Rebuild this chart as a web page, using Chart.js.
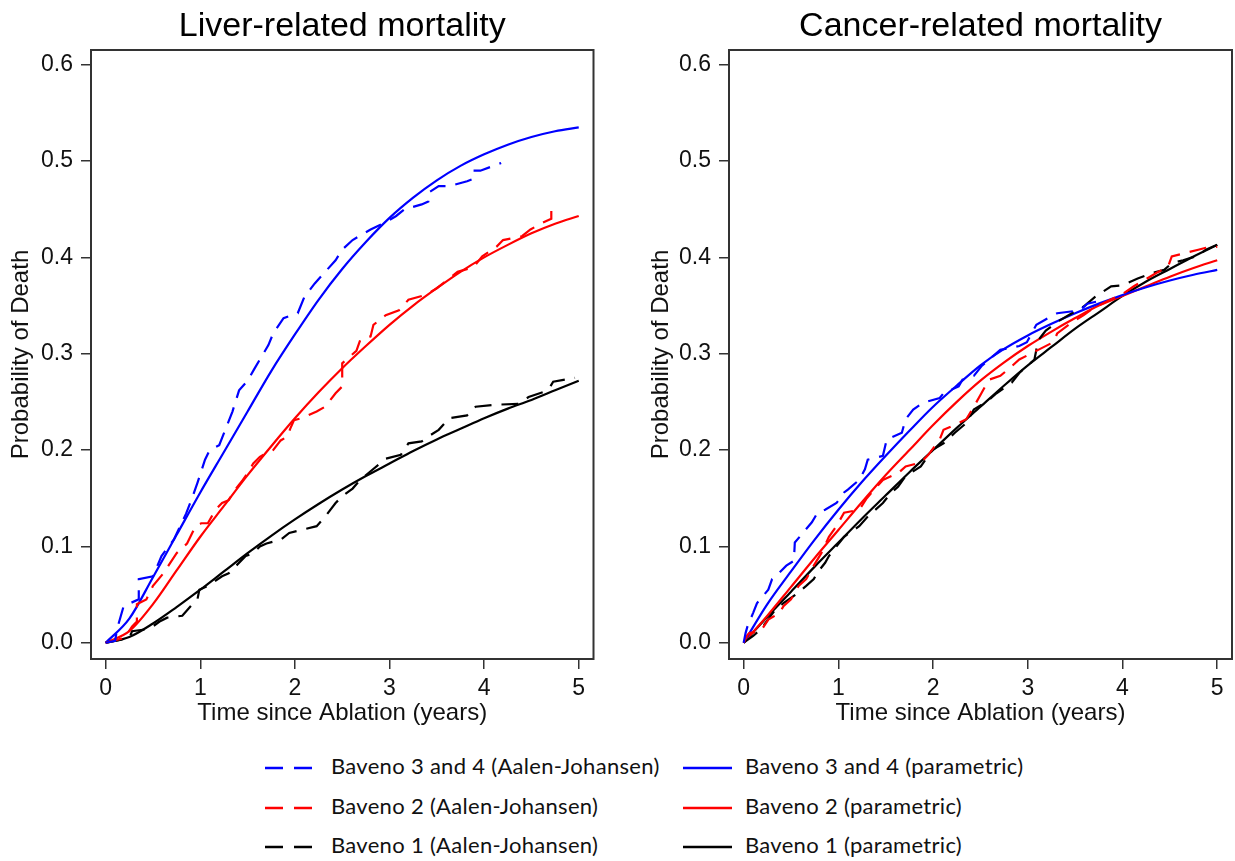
<!DOCTYPE html>
<html>
<head>
<meta charset="utf-8">
<script src="https://cdn.jsdelivr.net/npm/chart.js@4.4.1/dist/chart.umd.min.js"></script>
<style>
  html, body { margin: 0; padding: 0; background: #ffffff; }
  body { width: 1235px; height: 861px; position: relative; overflow: hidden; }
  #c1 { position: absolute; left: 0; top: 0; }
  #c2 { position: absolute; left: 640px; top: 0; }
  .lg-text { position: absolute; font-family: Lato, "Noto Sans", sans-serif; font-size: 22px; letter-spacing: 0.3px; color: #111; height: 30px; line-height: 30px; white-space: nowrap; }
  .lg-sym { position: absolute; }
</style>
</head>
<body>
<canvas id="c1" width="640" height="740"></canvas>
<canvas id="c2" width="595" height="740"></canvas>
<div id="legend"></div>
<script>
// ---------- tick labels ----------
const xTicks = [0, 1, 2, 3, 4, 5];
const yTicks = [0, 0.1, 0.2, 0.3, 0.4, 0.5, 0.6];

// ---------- panel titles & axis titles ----------
const panelTitles = ['Liver-related mortality', 'Cancer-related mortality'];
const xTitle = 'Time since Ablation (years)';
const yTitle = 'Probability of Death';

// ---------- groups ----------
const groupLabels = ['Baveno 3 and 4', 'Baveno 2', 'Baveno 1'];
const groupColors = ['#0000ff', '#ff0000', '#000000'];
const methodLabels = ['Aalen-Johansen', 'parametric'];

// ---------- parametric curves (years) ----------
const paramTimes = [0, 0.25, 0.5, 0.75, 1, 1.25, 1.5, 1.75, 2, 2.25, 2.5, 2.75, 3, 3.25, 3.5, 3.75, 4, 4.25, 4.5, 4.75, 5];
const liverParamB34 = [0, 0.025, 0.068, 0.112, 0.156, 0.198, 0.24, 0.282, 0.32, 0.356, 0.388, 0.416, 0.441, 0.462, 0.48, 0.495, 0.507, 0.517, 0.525, 0.531, 0.535];
const liverParamB2  = [0, 0.012, 0.04, 0.075, 0.11, 0.142, 0.174, 0.204, 0.233, 0.26, 0.285, 0.308, 0.33, 0.35, 0.368, 0.385, 0.40, 0.413, 0.425, 0.435, 0.443];
const liverParamB1  = [0, 0.006, 0.02, 0.037, 0.055, 0.074, 0.093, 0.111, 0.128, 0.144, 0.159, 0.173, 0.186, 0.199, 0.211, 0.222, 0.233, 0.243, 0.252, 0.262, 0.272];
const cancerParamB34 = [0, 0.04, 0.074, 0.107, 0.138, 0.167, 0.194, 0.22, 0.245, 0.267, 0.288, 0.305, 0.319, 0.331, 0.342, 0.352, 0.361, 0.369, 0.376, 0.382, 0.387];
const cancerParamB2  = [0, 0.028, 0.058, 0.088, 0.117, 0.146, 0.174, 0.2, 0.226, 0.25, 0.272, 0.291, 0.308, 0.323, 0.337, 0.35, 0.36, 0.37, 0.38, 0.389, 0.397];
const cancerParamB1  = [0, 0.027, 0.053, 0.079, 0.104, 0.129, 0.153, 0.177, 0.2, 0.223, 0.245, 0.267, 0.288, 0.307, 0.326, 0.343, 0.36, 0.375, 0.388, 0.401, 0.413];

// ---------- Aalen-Johansen estimates (time, probability) ----------
const liverAJB34T = [0, 0.1, 0.12, 0.19, 0.35, 0.35, 0.5, 0.59, 0.72, 0.85, 0.92, 0.97, 1.05, 1.1, 1.2, 1.34, 1.41, 1.5, 1.57, 1.72, 1.77, 1.88, 2.03, 2.1, 2.21, 2.43, 2.5, 2.61, 2.8, 2.95, 3.07, 3.16, 3.34, 3.41, 3.41, 3.52, 3.63, 3.82, 3.9, 3.9, 3.96, 4.18];
const liverAJB34P = [0, 0.002, 0.014, 0.038, 0.045, 0.066, 0.069, 0.09, 0.107, 0.134, 0.152, 0.166, 0.19, 0.2, 0.205, 0.24, 0.262, 0.272, 0.284, 0.309, 0.321, 0.337, 0.342, 0.359, 0.373, 0.397, 0.408, 0.418, 0.429, 0.436, 0.443, 0.45, 0.455, 0.458, 0.467, 0.474, 0.474, 0.479, 0.482, 0.49, 0.49, 0.498];

const liverAJB2T = [0, 0.2, 0.28, 0.33, 0.33, 0.43, 0.5, 0.61, 0.75, 0.86, 0.95, 1.01, 1.08, 1.16, 1.23, 1.3, 1.37, 1.45, 1.5, 1.56, 1.63, 1.7, 1.77, 1.85, 1.92, 1.95, 1.99, 2.07, 2.23, 2.32, 2.43, 2.5, 2.5, 2.58, 2.65, 2.69, 2.8, 2.83, 2.96, 3.1, 3.2, 3.38, 3.5, 3.72, 3.89, 3.98, 4.13, 4.2, 4.4, 4.49, 4.62, 4.71, 4.71];
const liverAJB2P = [0, 0.005, 0.017, 0.022, 0.04, 0.045, 0.059, 0.072, 0.093, 0.103, 0.121, 0.124, 0.124, 0.138, 0.145, 0.148, 0.159, 0.169, 0.176, 0.186, 0.193, 0.197, 0.2, 0.21, 0.214, 0.222, 0.231, 0.233, 0.24, 0.245, 0.259, 0.266, 0.29, 0.297, 0.303, 0.314, 0.318, 0.33, 0.34, 0.345, 0.356, 0.361, 0.368, 0.385, 0.39, 0.401, 0.411, 0.418, 0.422, 0.429, 0.436, 0.44, 0.451];

const liverAJB1T = [0, 0.25, 0.28, 0.43, 0.5, 0.57, 0.65, 0.81, 0.9, 0.97, 0.99, 1.08, 1.23, 1.3, 1.37, 1.48, 1.56, 1.63, 1.7, 1.85, 1.94, 2.07, 2.23, 2.32, 2.43, 2.5, 2.61, 2.69, 2.8, 2.9, 2.96, 3.12, 3.2, 3.34, 3.41, 3.52, 3.63, 3.82, 3.91, 4.11, 4.36, 4.47, 4.62, 4.7, 4.73, 4.91, 4.96];
const liverAJB1P = [0, 0.005, 0.012, 0.014, 0.017, 0.022, 0.026, 0.028, 0.038, 0.045, 0.055, 0.059, 0.069, 0.072, 0.079, 0.09, 0.093, 0.1, 0.103, 0.107, 0.114, 0.117, 0.121, 0.131, 0.145, 0.152, 0.16, 0.169, 0.178, 0.186, 0.191, 0.195, 0.207, 0.209, 0.214, 0.221, 0.233, 0.236, 0.245, 0.247, 0.248, 0.255, 0.26, 0.266, 0.271, 0.274, 0.275];

const cancerAJB34T = [0, 0.02, 0.04, 0.1, 0.14, 0.26, 0.3, 0.38, 0.45, 0.53, 0.54, 0.66, 0.72, 0.78, 0.86, 0.98, 1.06, 1.1, 1.22, 1.28, 1.31, 1.47, 1.51, 1.67, 1.71, 1.79, 1.89, 2.07, 2.11, 2.27, 2.31, 2.43, 2.51, 2.59, 2.71, 2.91, 2.99, 3.09, 3.23, 3.31, 3.55, 3.63, 3.72];
const cancerAJB34P = [0, 0.01, 0.017, 0.031, 0.041, 0.055, 0.066, 0.073, 0.08, 0.085, 0.104, 0.118, 0.125, 0.135, 0.138, 0.145, 0.156, 0.159, 0.169, 0.18, 0.19, 0.194, 0.211, 0.218, 0.232, 0.242, 0.249, 0.254, 0.259, 0.266, 0.273, 0.277, 0.287, 0.294, 0.304, 0.308, 0.312, 0.33, 0.338, 0.342, 0.345, 0.352, 0.354];

const cancerAJB2T = [0, 0.04, 0.06, 0.18, 0.26, 0.38, 0.42, 0.5, 0.58, 0.66, 0.74, 0.82, 0.9, 0.98, 1.06, 1.22, 1.3, 1.47, 1.63, 1.71, 1.87, 1.95, 2.07, 2.11, 2.23, 2.35, 2.43, 2.51, 2.59, 2.71, 2.83, 2.91, 3.11, 3.27, 3.31, 3.47, 3.59, 3.7, 3.85, 4.0, 4.12, 4.24, 4.36, 4.48, 4.52, 4.64, 4.8, 4.88, 5.0];
const cancerAJB2P = [0, 0.008, 0.01, 0.012, 0.024, 0.031, 0.038, 0.045, 0.059, 0.066, 0.08, 0.093, 0.11, 0.121, 0.135, 0.138, 0.15, 0.169, 0.176, 0.183, 0.187, 0.195, 0.211, 0.221, 0.226, 0.232, 0.245, 0.259, 0.273, 0.277, 0.287, 0.294, 0.304, 0.312, 0.321, 0.333, 0.34, 0.348, 0.355, 0.362, 0.37, 0.377, 0.384, 0.39, 0.401, 0.404, 0.408, 0.41, 0.411];

const cancerAJB1T = [0, 0.1, 0.18, 0.34, 0.42, 0.55, 0.66, 0.74, 0.78, 0.86, 0.9, 0.98, 1.06, 1.22, 1.31, 1.47, 1.55, 1.63, 1.71, 1.87, 1.99, 2.11, 2.23, 2.35, 2.43, 2.59, 2.67, 2.83, 2.91, 3.07, 3.11, 3.19, 3.31, 3.43, 3.59, 3.71, 3.88, 4.0, 4.16, 4.32, 4.44, 4.52, 4.64, 4.8, 4.88, 5.0];
const cancerAJB1P = [0, 0.007, 0.014, 0.035, 0.041, 0.05, 0.059, 0.066, 0.073, 0.083, 0.09, 0.1, 0.11, 0.121, 0.131, 0.145, 0.155, 0.162, 0.173, 0.183, 0.2, 0.207, 0.218, 0.228, 0.242, 0.252, 0.259, 0.27, 0.28, 0.294, 0.314, 0.324, 0.333, 0.34, 0.349, 0.359, 0.37, 0.371, 0.378, 0.384, 0.387, 0.394, 0.397, 0.402, 0.408, 0.413];

// ---------- build ----------
const FONT = '"Liberation Sans", Arial, sans-serif';
const AJ_DASH = [17, 10];

function pts(t, p) { return t.map((x, i) => ({ x: x, y: p[i] })); }

function buildDatasets(ajT, ajP, param) {
  const ds = [];
  for (let g = 0; g < 3; g++) {
    ds.push({
      label: groupLabels[g] + ' (' + methodLabels[0] + ')',
      data: pts(ajT[g], ajP[g]),
      borderColor: groupColors[g],
      borderWidth: 2.2,
      borderDash: AJ_DASH,
      pointRadius: 0,
      tension: 0,
      fill: false
    });
  }
  for (let g = 0; g < 3; g++) {
    ds.push({
      label: groupLabels[g] + ' (' + methodLabels[1] + ')',
      data: pts(paramTimes, param[g]),
      borderColor: groupColors[g],
      borderWidth: 2.2,
      pointRadius: 0,
      cubicInterpolationMode: 'monotone',
      fill: false
    });
  }
  return ds;
}

const framePlugin = {
  id: 'frame',
  afterDatasetsDraw(chart) {
    const a = chart.chartArea, ctx = chart.ctx;
    ctx.save();
    ctx.strokeStyle = '#333333';
    ctx.lineWidth = 2;
    ctx.strokeRect(a.left, a.top, a.right - a.left, a.bottom - a.top);
    ctx.restore();
  }
};

function makeOptions(title, yWidth, padRight, yTitlePad) {
  return {
    responsive: false,
    animation: false,
    events: [],
    layout: { padding: { left: 0, top: 0, right: padRight, bottom: 0 } },
    plugins: {
      legend: { display: false },
      tooltip: { enabled: false },
      title: {
        display: true, text: title, fullSize: false, color: '#000',
        font: { family: FONT, size: 34, weight: 'normal', lineHeight: 1.2 },
        padding: { top: 5.9, bottom: 3.3 }
      }
    },
    scales: {
      x: {
        type: 'linear', min: -0.155, max: 5.156,
        afterBuildTicks: s => { s.ticks = xTicks.map(v => ({ value: v })); },
        afterFit: s => { s.height = 81; },
        grid: { drawOnChartArea: false, drawTicks: true, tickLength: 10, color: '#333333', lineWidth: 1.5 },
        border: { display: false },
        ticks: { autoSkip: false, maxRotation: 0, padding: 6, color: '#111', font: { family: FONT, size: 23 }, callback: v => String(v) },
        title: { display: true, text: xTitle, color: '#111', font: { family: FONT, size: 24, lineHeight: 1.2 }, padding: { top: 0, bottom: 12.3 } }
      },
      y: {
        type: 'linear', min: -0.0169, max: 0.6153,
        afterBuildTicks: s => { s.ticks = yTicks.map(v => ({ value: v })); },
        afterFit: s => { s.width = yWidth; },
        grid: { drawOnChartArea: false, drawTicks: true, tickLength: 10, color: '#333333', lineWidth: 1.5 },
        border: { display: false },
        ticks: { autoSkip: false, padding: 8, color: '#111', font: { family: FONT, size: 23 }, callback: v => Number(v).toFixed(1) },
        title: { display: true, text: yTitle, color: '#111', font: { family: FONT, size: 24, lineHeight: 1.2 }, padding: { top: yTitlePad, bottom: 0 } }
      }
    }
  };
}

const liverDs = buildDatasets(
  [liverAJB34T, liverAJB2T, liverAJB1T],
  [liverAJB34P, liverAJB2P, liverAJB1P],
  [liverParamB34, liverParamB2, liverParamB1]
);
const cancerDs = buildDatasets(
  [cancerAJB34T, cancerAJB2T, cancerAJB1T],
  [cancerAJB34P, cancerAJB2P, cancerAJB1P],
  [cancerParamB34, cancerParamB2, cancerParamB1]
);

new Chart(document.getElementById('c1'), {
  type: 'line', data: { datasets: liverDs },
  options: makeOptions(panelTitles[0], 91, 46.5, 7),
  plugins: [framePlugin]
});
new Chart(document.getElementById('c2'), {
  type: 'line', data: { datasets: cancerDs },
  options: makeOptions(panelTitles[1], 89, 3, 6.5),
  plugins: [framePlugin]
});

// ---------- legend (2 columns x 3 rows), built from the dataset definitions ----------
const legendRowsY = [768, 808, 847];
const legendCols = [
  { symLeft: 265, symWidth: 47, textLeft: 331 },
  { symLeft: 683, symWidth: 49, textLeft: 745 }
];
const legendEl = document.getElementById('legend');
for (let c = 0; c < 2; c++) {
  for (let g = 0; g < 3; g++) {
    const ds = liverDs[c * 3 + g];
    const col = legendCols[c];
    const yc = legendRowsY[g];
    const svgNS = 'http://www.w3.org/2000/svg';
    const svg = document.createElementNS(svgNS, 'svg');
    svg.setAttribute('class', 'lg-sym');
    svg.setAttribute('width', col.symWidth);
    svg.setAttribute('height', 8);
    svg.style.left = col.symLeft + 'px';
    svg.style.top = (yc - 4) + 'px';
    const ln = document.createElementNS(svgNS, 'line');
    ln.setAttribute('x1', 0); ln.setAttribute('x2', col.symWidth);
    ln.setAttribute('y1', 4); ln.setAttribute('y2', 4);
    ln.setAttribute('stroke', ds.borderColor);
    ln.setAttribute('stroke-width', 2.6);
    if (ds.borderDash) ln.setAttribute('stroke-dasharray', '18 11');
    svg.appendChild(ln);
    legendEl.appendChild(svg);
    const t = document.createElement('div');
    t.className = 'lg-text';
    t.style.left = col.textLeft + 'px';
    t.style.top = (yc - 17.5) + 'px';
    t.textContent = ds.label;
    legendEl.appendChild(t);
  }
}
</script>
</body>
</html>
